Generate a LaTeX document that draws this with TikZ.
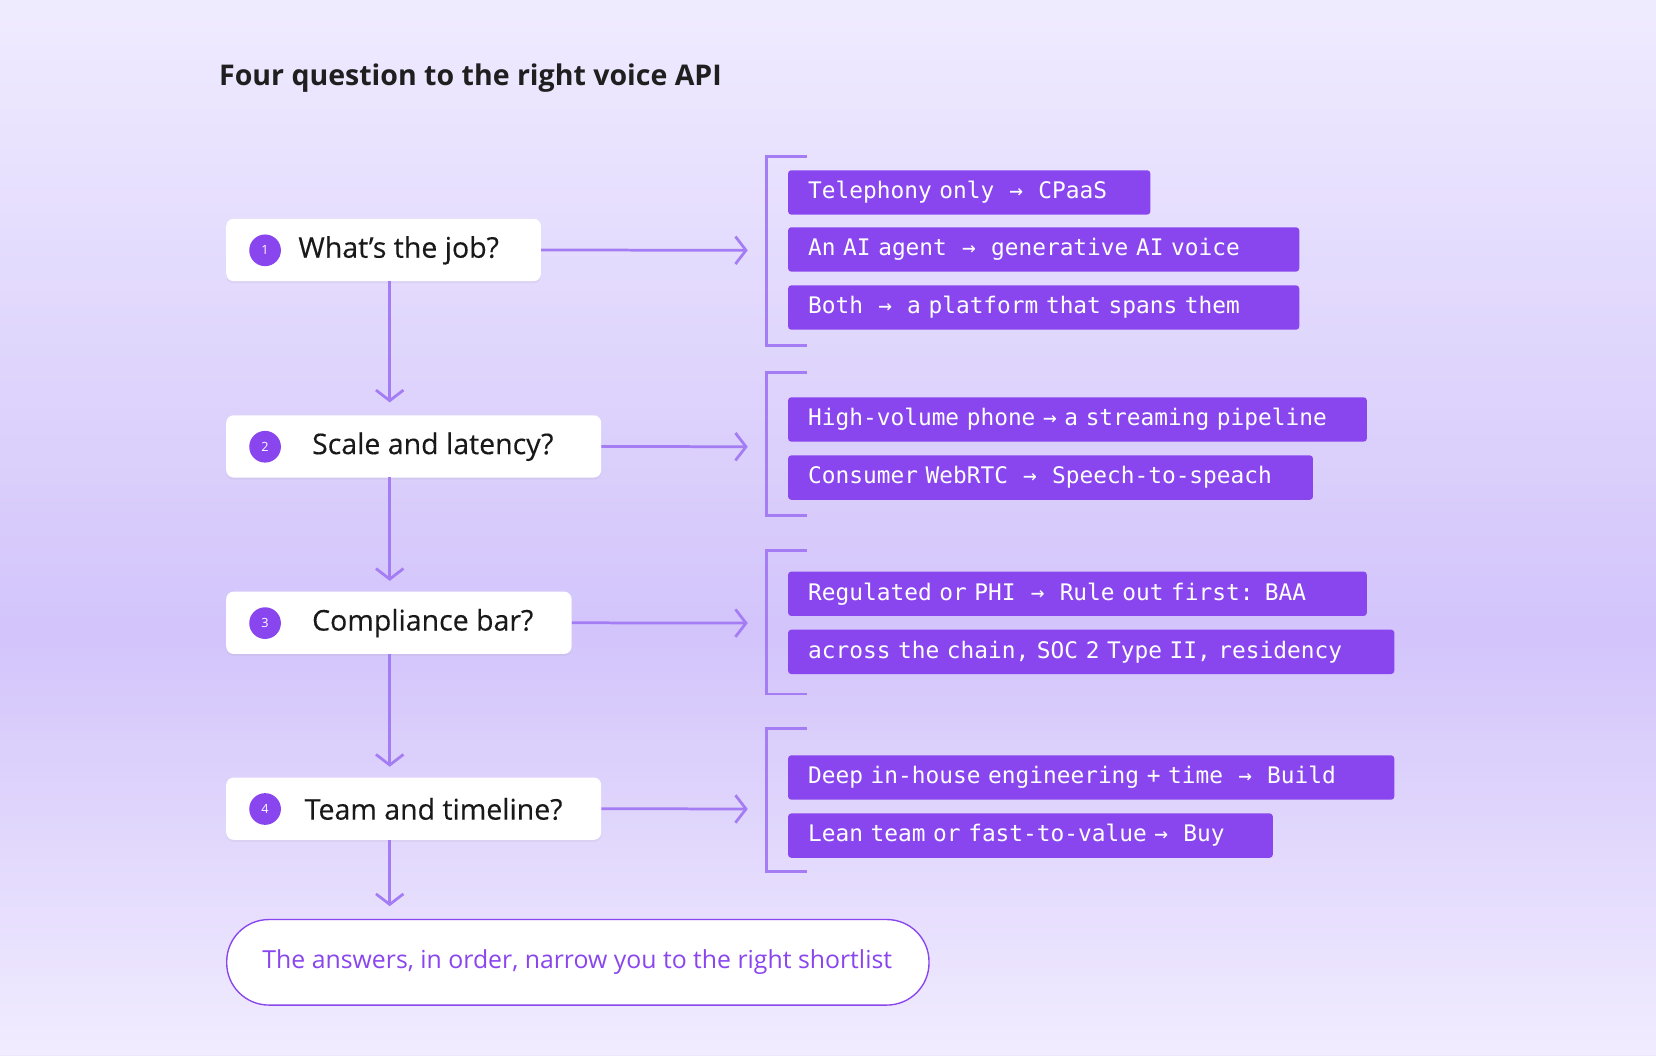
\documentclass[tikz,border=0pt]{standalone}
\usepackage{fontspec}
\setmainfont{Open Sans}
\newfontfamily\monof[WordSpace={1,0,0}]{DejaVu Sans Mono}
\usetikzlibrary{arrows.meta,shadows}
\definecolor{pv}{HTML}{8A46EE}
\definecolor{ln}{HTML}{A47CF4}
\definecolor{bgA}{HTML}{ECE7FF}
\definecolor{bgB}{HTML}{C8B6FA}
\definecolor{bgC}{HTML}{EEE8FF}
\newcommand{\ra}{~→~}
\begin{document}
\begin{tikzpicture}[x=1pt,y=-1pt,
 q/.style={draw=none,fill=white,rounded corners=7pt,minimum height=59pt,anchor=north west,inner sep=0pt,drop shadow={shadow xshift=0pt,shadow yshift=-2pt,opacity=0.08}},
 qt/.style={anchor=west,font=\fontsize{27}{30}\selectfont\addfontfeatures{FakeBold=0.3},text=black!90},
 num/.style={circle,fill=pv,text=white,minimum size=30pt,inner sep=0pt,font=\fontsize{12}{12}\selectfont},
 pbox/.style={fill=pv,rounded corners=3pt,minimum height=42pt,anchor=north west,inner xsep=19pt,inner ysep=0pt,align=left,text=white,font=\monof\fontsize{21.6}{22}\selectfont},
 ar/.style={ln,line width=2.6pt,-{Straight Barb[length=10pt,width=26pt,line width=2.6pt]}},
 br/.style={ln,line width=2.6pt}]
\useasboundingbox (0,0) rectangle (1568,999);
\shade[top color=bgA,bottom color=bgB] (0,0) rectangle (1568,600);
\shade[top color=bgB,bottom color=bgC] (0,600) rectangle (1568,999);
\fill[white,opacity=0.2] (0,0) rectangle (1568,999);
\node[anchor=west,font=\fontsize{27}{30}\selectfont\bfseries,text=black!88] (title) at (204,74) {Four question to the right voice API};
% questions
\node[q,minimum width=298pt] (q1) at (214,207) {};
\node[q,minimum width=355pt] (q2) at (214,393) {};
\node[q,minimum width=327pt] (q3) at (214,560) {};
\node[q,minimum width=355pt] (q4) at (214,736) {};
\node[num] (n1) at (251,237) {1}; \node[qt] (t1) at (279,237) {What’s the job?};
\node[num] (n2) at (251,423) {2}; \node[qt] (t2) at (292,423) {Scale and latency?};
\node[num] (n3) at (251,590) {3}; \node[qt] (t3) at (292,590) {Compliance bar?};
\node[num] (n4) at (251,766) {4}; \node[qt] (t4) at (285,766) {Team and timeline?};
\coordinate (v1) at (369,381); \coordinate (v2) at (369,550); \coordinate (v3) at (369,726); \coordinate (v4) at (369,858);
\draw[ar] (369,266) -- (v1); \draw[ar] (369,452) -- (v2); \draw[ar] (369,619) -- (v3); \draw[ar] (369,795) -- (v4);
\coordinate (h1) at (708,237); \coordinate (h2) at (708,423); \coordinate (h3) at (708,590); \coordinate (h4) at (708,766);
\draw[ar] (q1.east) -- (h1); \draw[ar] (q2.east) -- (h2); \draw[ar] (q3.east) -- (h3); \draw[ar] (q4.east) -- (h4);
% brackets
\draw[br] (764,148) -- (726,148) -- (726,327) -- (764,327);
\draw[br] (764,353) -- (726,353) -- (726,488) -- (764,488);
\draw[br] (764,521) -- (726,521) -- (726,657) -- (764,657);
\draw[br] (764,690) -- (726,690) -- (726,825) -- (764,825);
% answer boxes
\node[pbox,text width=305pt] (a1) at (746,161) {Telephony only\ \ra\ CPaaS};
\node[pbox,text width=446pt] (a2) at (746,215) {An AI agent\ \ra\ generative AI voice};
\node[pbox,text width=446pt] (a3) at (746,270) {Both\ \ra\ a platform that spans them};
\node[pbox,text width=510pt] (a4) at (746,376) {High-volume phone → a streaming pipeline};
\node[pbox,text width=459pt] (a5) at (746,431) {Consumer WebRTC\ \ra\ Speech-to-speach};
\node[pbox,text width=510pt] (a6) at (746,541) {Regulated or PHI\ \ra\ Rule out first: BAA};
\node[pbox,text width=536pt] (a7) at (746,596) {across the chain, SOC 2 Type II, residency};
\node[pbox,text width=536pt] (a8) at (746,715) {Deep in-house engineering + time\ \ra\ Build};
\node[pbox,text width=421pt] (a9) at (746,770) {Lean team or fast-to-value →\ \ Buy};
% final
\node[draw=pv,line width=1.3pt,fill=white,rounded corners=40pt,minimum width=665pt,minimum height=81pt,anchor=north west] (fin) at (214,870) {};
\node[anchor=west,text=pv,font=\fontsize{23.5}{26}\selectfont] (fint) at (245,911) {The answers, in order, narrow you to the right shortlist};
\end{tikzpicture}
\end{document}
